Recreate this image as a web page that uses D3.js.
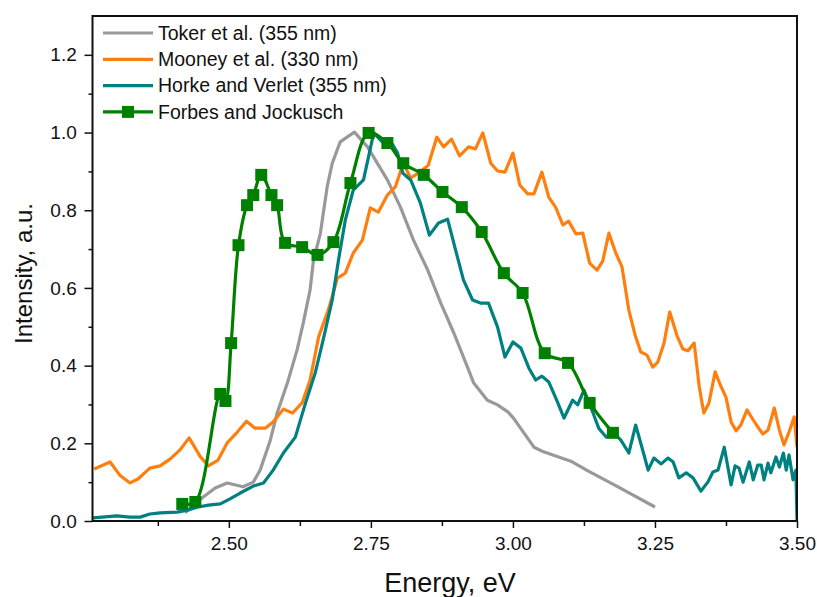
<!DOCTYPE html>
<html><head><meta charset="utf-8">
<script src="https://cdn.jsdelivr.net/npm/d3@7/dist/d3.min.js"></script>
<style>body{margin:0;background:#fff}svg{display:block;font-family:"Liberation Sans",Arial,sans-serif}</style>
</head><body><svg id="c" width="817" height="597"></svg>
<script>
const seriesNames = ["Toker et al. (355 nm)","Mooney et al. (330 nm)","Horke and Verlet (355 nm)","Forbes and Jockusch"];
const seriesColors = ["#999999","#ff7f0e","#008080","#008000"];
const xTicks = [2.50,2.75,3.00,3.25,3.50];
const yTicks = [0.0,0.2,0.4,0.6,0.8,1.0,1.2];

const tokerX = [2.423,2.455,2.476,2.497,2.525,2.543,2.555,2.573,2.585,2.603,2.620,2.631,2.643,2.649,2.661,2.673,2.682,2.696,2.721,2.744,2.779,2.802,2.825,2.850,2.873,2.896,2.920,2.931,2.955,2.973,2.991,3.001,3.037,3.054,3.102,3.132,3.185,3.250];
const tokerY = [0.021,0.062,0.085,0.098,0.088,0.100,0.131,0.208,0.278,0.355,0.440,0.510,0.595,0.672,0.740,0.860,0.921,0.976,1.001,0.963,0.878,0.808,0.723,0.646,0.561,0.484,0.396,0.355,0.311,0.299,0.281,0.265,0.190,0.178,0.154,0.129,0.088,0.036];

const mooneyX = [2.263,2.291,2.308,2.326,2.340,2.361,2.379,2.397,2.414,2.430,2.450,2.464,2.481,2.497,2.515,2.531,2.546,2.564,2.578,2.596,2.612,2.629,2.643,2.658,2.675,2.691,2.705,2.719,2.735,2.749,2.763,2.779,2.793,2.807,2.820,2.834,2.851,2.866,2.878,2.892,2.906,2.922,2.934,2.947,2.961,2.973,2.986,3.000,3.012,3.026,3.037,3.051,3.063,3.075,3.088,3.098,3.111,3.123,3.135,3.148,3.158,3.169,3.181,3.192,3.204,3.215,3.225,3.236,3.246,3.255,3.266,3.276,3.289,3.299,3.308,3.319,3.328,3.336,3.345,3.356,3.365,3.375,3.384,3.393,3.401,3.412,3.423,3.431,3.440,3.449,3.460,3.469,3.477,3.486,3.495,3.500];
const mooneyY = [0.134,0.152,0.118,0.098,0.108,0.136,0.142,0.160,0.183,0.214,0.165,0.142,0.157,0.201,0.229,0.257,0.239,0.239,0.255,0.288,0.278,0.304,0.363,0.474,0.543,0.625,0.638,0.690,0.723,0.806,0.795,0.839,0.860,0.921,0.883,0.896,0.916,0.988,0.963,0.983,0.940,0.963,0.958,0.999,0.921,0.901,0.898,0.947,0.865,0.842,0.842,0.898,0.834,0.808,0.762,0.772,0.739,0.741,0.664,0.646,0.669,0.741,0.690,0.654,0.543,0.479,0.435,0.427,0.396,0.409,0.458,0.538,0.476,0.443,0.438,0.458,0.345,0.278,0.304,0.384,0.350,0.319,0.255,0.232,0.247,0.286,0.260,0.242,0.224,0.234,0.291,0.234,0.196,0.229,0.268,0.190];

const horkeX = [2.261,2.303,2.326,2.344,2.361,2.379,2.409,2.427,2.446,2.464,2.485,2.502,2.520,2.543,2.561,2.578,2.596,2.617,2.635,2.652,2.666,2.682,2.693,2.705,2.719,2.737,2.755,2.770,2.788,2.797,2.806,2.820,2.837,2.853,2.869,2.885,2.899,2.913,2.929,2.943,2.957,2.973,2.986,3.000,3.014,3.028,3.040,3.051,3.063,3.077,3.090,3.105,3.114,3.125,3.141,3.151,3.164,3.176,3.190,3.204,3.216,3.227,3.238,3.248,3.261,3.273,3.282,3.292,3.305,3.317,3.331,3.343,3.352,3.361,3.372,3.384,3.391,3.398,3.405,3.416,3.423,3.431,3.437,3.442,3.449,3.454,3.463,3.469,3.476,3.481,3.486,3.493,3.498,3.500];
const horkeY = [0.008,0.013,0.010,0.010,0.018,0.021,0.023,0.028,0.036,0.041,0.044,0.057,0.072,0.090,0.098,0.131,0.175,0.216,0.304,0.381,0.466,0.569,0.672,0.775,0.852,0.878,0.999,0.976,0.970,0.947,0.896,0.878,0.819,0.736,0.767,0.777,0.698,0.620,0.569,0.561,0.561,0.499,0.422,0.461,0.445,0.394,0.363,0.373,0.358,0.311,0.265,0.311,0.299,0.337,0.278,0.239,0.216,0.229,0.208,0.175,0.247,0.190,0.131,0.162,0.147,0.162,0.152,0.111,0.124,0.111,0.077,0.100,0.126,0.131,0.190,0.093,0.142,0.136,0.100,0.152,0.106,0.144,0.144,0.106,0.149,0.124,0.165,0.139,0.175,0.131,0.170,0.106,0.131,0.003];

const forbesX = [2.418,2.441,2.485,2.494,2.504,2.517,2.532,2.543,2.557,2.575,2.585,2.599,2.629,2.656,2.684,2.714,2.746,2.779,2.807,2.843,2.876,2.910,2.945,2.984,3.017,3.056,3.097,3.135,3.176];
const forbesY = [0.044,0.049,0.327,0.309,0.458,0.710,0.813,0.839,0.891,0.839,0.813,0.716,0.705,0.685,0.718,0.870,0.999,0.973,0.921,0.891,0.847,0.808,0.744,0.638,0.587,0.432,0.407,0.304,0.227];

const W=817,H=597, L=92.5, R=797, T=16, B=521;
const svg=d3.select("#c");
const x=d3.scaleLinear().domain([2.26,3.5]).range([L,R]);
const y=d3.scaleLinear().domain([0,1.3]).range([B,T]);

svg.append("defs").append("clipPath").attr("id","clip").append("rect")
  .attr("x",L).attr("y",T).attr("width",R-L).attr("height",B-T);

const zip=(a,b)=>a.map((v,i)=>[v,b[i]]);
const series=[zip(tokerX,tokerY),zip(mooneyX,mooneyY),zip(horkeX,horkeY),zip(forbesX,forbesY)];

const g=svg.append("g").attr("clip-path","url(#clip)");
const lin=d3.line().x(d=>x(d[0])).y(d=>y(d[1]));
const smooth=d3.line().x(d=>x(d[0])).y(d=>y(d[1])).curve(d3.curveCatmullRom.alpha(0.5));
series.forEach((s,i)=>{
  g.append("path").datum(s).attr("d",i===3?smooth:lin).attr("fill","none")
   .attr("stroke",seriesColors[i]).attr("stroke-width",3.2).attr("stroke-linejoin","round");
});
g.selectAll("rect.m").data(series[3]).enter().append("rect").attr("class","m")
  .attr("x",d=>x(d[0])-6).attr("y",d=>y(d[1])-6).attr("width",12).attr("height",12)
  .attr("fill",seriesColors[3]);

// axes
const xAx=d3.axisBottom(x).tickValues(xTicks).tickFormat(d3.format(".2f")).tickSize(7).tickSizeOuter(0);
const xg=svg.append("g").attr("transform",`translate(0,${B})`).call(xAx);
xg.selectAll("text").attr("font-size",19).attr("fill","#111").attr("dy","1.0em");
const xMinor=d3.axisBottom(x).tickValues([2.375,2.625,2.875,3.125,3.375]).tickFormat("").tickSize(5).tickSizeOuter(0);
svg.append("g").attr("transform",`translate(0,${B})`).call(xMinor).select(".domain").remove();

const yAx=d3.axisLeft(y).tickValues(yTicks).tickFormat(d3.format(".1f")).tickSize(8).tickSizeOuter(0);
const yg=svg.append("g").attr("transform",`translate(${L},0)`).call(yAx);
yg.selectAll("text").attr("font-size",19).attr("fill","#111").attr("dx","-0.25em");
const yMinor=d3.axisLeft(y).tickValues([0.1,0.3,0.5,0.7,0.9,1.1]).tickFormat("").tickSize(4).tickSizeOuter(0);
svg.append("g").attr("transform",`translate(${L},0)`).call(yMinor).select(".domain").remove();
svg.selectAll(".tick line").attr("stroke","#111").attr("stroke-width",1.5);

// frame
svg.append("rect").attr("x",L).attr("y",T).attr("width",R-L).attr("height",B-T)
  .attr("fill","none").attr("stroke","#111").attr("stroke-width",2);
svg.selectAll(".domain").remove();

// titles
svg.append("text").attr("x",450).attr("y",592).attr("text-anchor","middle")
  .attr("font-size",27).attr("fill","#111").text("Energy, eV");
svg.append("text").attr("transform",`translate(32,${(T+B)/2+5}) rotate(-90)`).attr("text-anchor","middle")
  .attr("font-size",24).attr("fill","#111").text("Intensity, a.u.");

// legend
const lg=svg.append("g");
seriesNames.forEach((n,i)=>{
  const yy=33+i*26.3;
  lg.append("line").attr("x1",103).attr("x2",153).attr("y1",yy).attr("y2",yy)
    .attr("stroke",seriesColors[i]).attr("stroke-width",3.2);
  if(i===3) lg.append("rect").attr("x",122).attr("y",yy-6).attr("width",12).attr("height",12).attr("fill",seriesColors[i]);
  lg.append("text").attr("x",158).attr("y",yy).attr("dy","0.35em").attr("font-size",19.5).attr("fill","#111").text(n);
});
</script></body></html>
